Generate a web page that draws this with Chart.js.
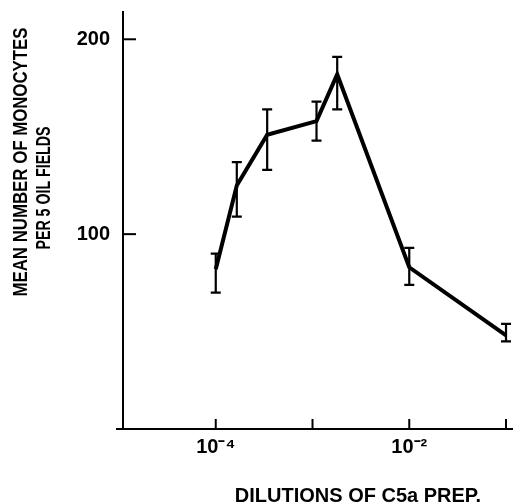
<!DOCTYPE html>
<html>
<head>
<meta charset="utf-8">
<script src="https://cdn.jsdelivr.net/npm/chart.js@4.4.1/dist/chart.umd.min.js"></script>
<style>
  html, body { margin: 0; padding: 0; background: #fff; }
  #wrap { width: 513px; height: 504px; position: relative; }
</style>
</head>
<body>
<div id="wrap"><canvas id="chart"></canvas></div>
<script>
// --- DATA ---
const dilutions = [1e-4, 1.65e-4, 3.4e-4, 1.1e-3, 1.8e-3, 1e-2, 1e-1];
const meanMonocytes = [82, 125, 151, 158, 182, 83, 48];
const errLow = [70, 109, 133, 148, 164, 74, 45];
const errHigh = [90, 137, 164, 168, 191, 93, 54];
const xTickValues = [1e-4, 1e-3, 1e-2, 1e-1];
const xTickLabels = ['10\u207B\u2074', '', '10\u207B\u00B2', ''];
const yTickValues = [100, 200];
const yTitleLines = ['MEAN NUMBER OF MONOCYTES', 'PER 5 OIL FIELDS'];
const xTitle = 'DILUTIONS OF C5a PREP.';

const FONT = '"Liberation Sans", Arial, sans-serif';

// draw text squeezed to a given width (the original type is a condensed face)
function fitText(ctx, text, cx, cy, width, angle) {
    const w = ctx.measureText(text).width;
    ctx.save();
    ctx.translate(cx, cy);
    ctx.rotate(angle);
    ctx.scale(Math.min(1, width / w), 1);
    ctx.fillText(text, 0, 0);
    ctx.restore();
}

// --- ERROR BARS + INWARD TICKS + AXIS TITLES ---
const extras = {
    id: 'extras',
    afterDatasetsDraw(chart) {
        const ctx = chart.ctx;
        const xs = chart.scales.x, ys = chart.scales.y;
        const area = chart.chartArea;
        ctx.save();
        ctx.strokeStyle = '#000';

        // error bars
        ctx.lineWidth = 2.2;
        dilutions.forEach((d, i) => {
            const x = xs.getPixelForValue(d);
            const yTop = ys.getPixelForValue(errHigh[i]);
            const yBot = ys.getPixelForValue(errLow[i]);
            ctx.beginPath();
            ctx.moveTo(x, yTop); ctx.lineTo(x, yBot);
            ctx.moveTo(x - 5, yTop); ctx.lineTo(x + 5, yTop);
            ctx.moveTo(x - 5, yBot); ctx.lineTo(x + 5, yBot);
            ctx.stroke();
        });

        // inward tick marks
        ctx.lineWidth = 2;
        yTickValues.forEach(v => {
            const y = ys.getPixelForValue(v);
            ctx.beginPath();
            ctx.moveTo(area.left, y); ctx.lineTo(area.left + 13, y);
            ctx.stroke();
        });
        xTickValues.forEach(v => {
            const x = xs.getPixelForValue(v);
            ctx.beginPath();
            ctx.moveTo(x, area.bottom); ctx.lineTo(x, area.bottom - 10);
            ctx.stroke();
        });
        // axis line runs a little past the y axis on the left
        ctx.beginPath();
        ctx.moveTo(area.left - 7, area.bottom); ctx.lineTo(area.left, area.bottom);
        ctx.stroke();

        // axis titles
        ctx.fillStyle = '#000';
        ctx.font = 'bold 20px ' + FONT;
        ctx.textAlign = 'center';
        ctx.textBaseline = 'middle';
        fitText(ctx, xTitle, 358, 496, 263, 0);
        fitText(ctx, yTitleLines[0], 21, 162, 269, -Math.PI / 2);
        fitText(ctx, yTitleLines[1], 44, 188, 123, -Math.PI / 2);

        ctx.restore();
    }
};

const ctx = document.getElementById('chart').getContext('2d');
new Chart(ctx, {
    type: 'line',
    data: {
        datasets: [{
            data: dilutions.map((d, i) => ({ x: d, y: meanMonocytes[i] })),
            borderColor: '#000',
            borderWidth: 4,
            pointRadius: 0,
            tension: 0,
            fill: false
        }]
    },
    options: {
        responsive: true,
        maintainAspectRatio: false,
        animation: false,
        layout: { padding: { top: 12, right: 1, left: 0, bottom: 0 } },
        plugins: { legend: { display: false }, tooltip: { enabled: false } },
        scales: {
            x: {
                type: 'logarithmic',
                min: 1.1e-5,
                max: 0.1153,
                grid: { display: false, drawTicks: false },
                border: { color: '#000', width: 2 },
                afterBuildTicks(scale) {
                    scale.ticks = xTickValues.map(v => ({ value: v }));
                },
                afterFit(scale) {
                    scale.height = 75;
                    scale.paddingLeft = 0;
                    scale.paddingRight = 0;
                },
                ticks: {
                    autoSkip: false,
                    maxRotation: 0,
                    padding: 6,
                    color: '#000',
                    font: { family: FONT, size: 20, weight: 'bold', lineHeight: 1.2 },
                    callback: function (value) {
                        const i = xTickValues.indexOf(value);
                        return i >= 0 ? xTickLabels[i] : '';
                    }
                }
            },
            y: {
                min: 0,
                max: 214,
                grid: { display: false, drawTicks: false },
                border: { color: '#000', width: 2 },
                afterBuildTicks(scale) {
                    scale.ticks = yTickValues.map(v => ({ value: v }));
                },
                afterFit(scale) {
                    scale.width = 123;
                    scale.paddingTop = 0;
                    scale.paddingBottom = 0;
                },
                ticks: {
                    padding: 13,
                    color: '#000',
                    font: { family: FONT, size: 20, weight: 'bold' }
                }
            }
        }
    },
    plugins: [extras]
});
</script>
</body>
</html>
